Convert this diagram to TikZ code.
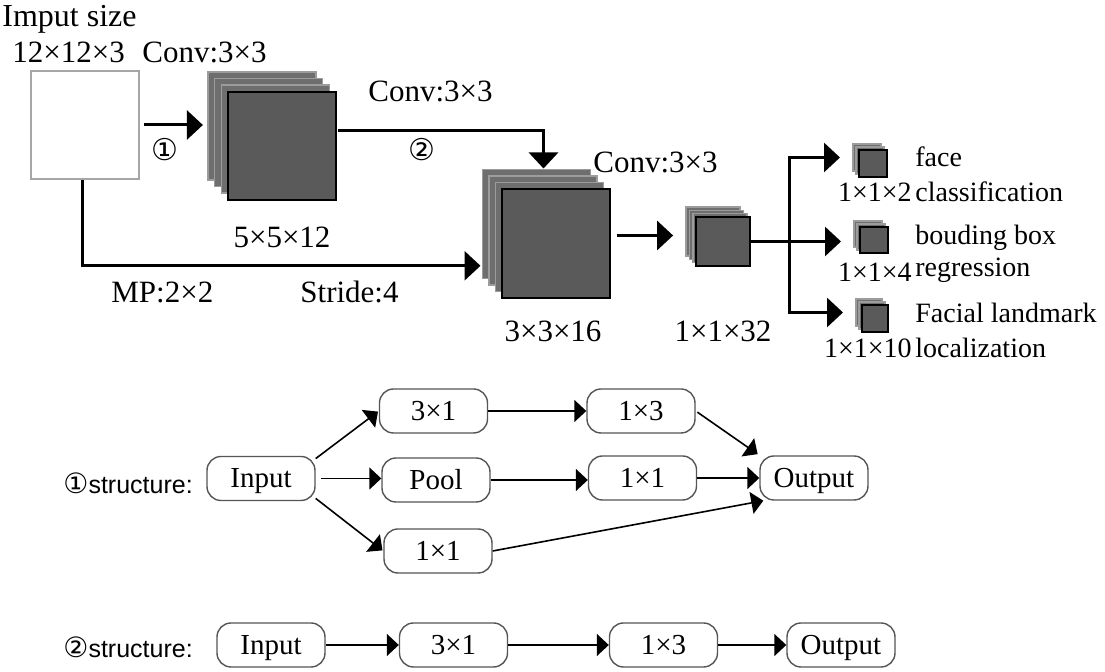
\documentclass[tikz,border=0pt]{standalone}
\usepackage{fontspec}
\setmainfont{Liberation Serif}
\setsansfont{Liberation Sans}
\newfontfamily\circfont{DejaVu Sans}
\usetikzlibrary{arrows.meta}
\definecolor{mapfront}{HTML}{5A5A5A}
\definecolor{mapback}{HTML}{6E6E6E}
\definecolor{mapedge}{HTML}{9C9C9C}
\definecolor{boxedge}{HTML}{555555}
\tikzset{
bigline/.style={line width=1.5pt},
bigarrow/.style={line width=1.5pt,-{Triangle[length=8pt,width=14.5pt]}},
thinarrow/.style={line width=0.8pt,-{Triangle[length=6pt,width=11pt]}},
inbox/.style={draw=gray!70,line width=0.8pt,fill=white,minimum width=54pt,minimum height=54pt,inner sep=0pt},
backmap/.style={draw=mapedge,line width=0.8pt,fill=mapback,inner sep=0pt,outer sep=0pt},
frontmap/.style={draw=black,line width=1pt,fill=mapfront,inner sep=0pt,outer sep=0pt},
lbl/.style={inner sep=0pt,font=\fontsize{15.5}{18}\selectfont},
sidelbl/.style={inner sep=0pt,font=\fontsize{14}{16}\selectfont},
circ/.style={inner sep=0pt,font=\fontsize{15}{17}\selectfont\circfont},
blk/.style={draw=boxedge,line width=0.7pt,rounded corners=7pt,minimum width=54pt,minimum height=22pt,inner sep=0pt,text height=9.5pt,text depth=0pt,font=\fontsize{14.5}{16}\selectfont},
structlbl/.style={inner sep=0pt,font=\fontsize{12.5}{15}\selectfont\sffamily}
}
\newcommand{\fmap}[7]{%
\foreach \k in {#7,...,1}{
\pgfmathsetmacro{\bx}{#2+#4/2-\k*#6}
\pgfmathsetmacro{\by}{#3+#5/2-\k*#6}
\node[backmap,minimum width=#4*0.5pt,minimum height=#5*0.5pt] (#1-\k) at (\bx,\by) {};
}
\node[frontmap,minimum width=#4*0.5pt,minimum height=#5*0.5pt] (#1) at (#2+#4/2,#3+#5/2) {};
}
\newcommand{\stepno}[1]{{\fontsize{14}{16}\selectfont\circfont #1}}

\begin{document}
\begin{tikzpicture}[x=0.5pt,y=-0.5pt]
\useasboundingbox (0,0) rectangle (1105,672);



\node[inbox] (in) at (85,125) {};

\fmap{c1}{228}{92}{108}{108}{6.7}{3}
\fmap{c2}{502}{189}{108}{109}{6.5}{3}
\fmap{c3}{696}{217}{54}{49}{3.3}{3}

\fmap{o1}{859}{150}{28}{27}{3}{2}
\fmap{o2}{860}{227}{28}{26}{3}{2}
\fmap{o3}{862}{305}{26}{27}{3}{2}



\draw[bigarrow,shorten <=2pt,shorten >=2.5pt] (in.east) -- (in.east -| c1-3.west);
\draw[bigarrow,shorten >=0.5pt] ([xshift=1pt,yshift=7.5pt]c1.east) -| ([xshift=3.5pt]c2-3.north);
\draw[bigarrow,shorten >=1pt] ([xshift=-1.5pt]in.south) -- ++(0,86) coordinate (mpc) -- (mpc -| c2-3.west);
\draw[bigarrow,shorten <=3.5pt,shorten >=6.5pt] ([yshift=4pt]c2.east) -- ([yshift=4pt]c2.east -| c3-3.west);

\draw[bigline] (c3.east) -- ++(39,0) coordinate (jn);
\draw[bigarrow,shorten >=6.5pt] (jn) |- (o1-2.west);
\draw[bigarrow,shorten >=6.5pt] (jn) -- (jn -| o2-2.west);
\draw[bigarrow,shorten >=6.5pt] (jn) |- (o3-2.west);



\node[lbl,font=\fontsize{16}{18}\selectfont,anchor=base west] (size) at (2,27) {Imput size};
\node[lbl,anchor=base west] (dim0) at (12,63) {12×12×3};
\node[lbl,anchor=base west] (conv1) at (142,63) {Conv:3×3};
\node[circ] (p1) at (165,150) {①};
\node[lbl,anchor=base] (dim1) at (282,248) {5×5×12};

\node[lbl,anchor=base west] (conv2) at (368,102) {Conv:3×3};
\node[circ] (p2) at (422,150) {②};
\node[lbl,anchor=base west] (mplbl) at (111,303) {MP:2×2};
\node[lbl,anchor=base west] (stride) at (300,303) {Stride:4};

\node[lbl,anchor=base west] (conv3) at (593,173) {Conv:3×3};
\node[lbl,anchor=base] (dim2) at (553,342) {3×3×16};
\node[lbl,anchor=base] (dim3) at (723,342) {1×1×32};

\node[sidelbl,anchor=base west] (face) at (915,167) {face};
\node[sidelbl,anchor=base west] (cls) at (915,202) {classification};
\node[sidelbl,anchor=base east] (dim4) at (912,202) {1×1×2};
\node[sidelbl,anchor=base west] (bbox) at (915,245) {bouding box};
\node[sidelbl,anchor=base west] (reg) at (915,277) {regression};
\node[sidelbl,anchor=base east] (dim5) at (912,282) {1×1×4};
\node[sidelbl,anchor=base west] (land) at (915,323) {Facial landmark};
\node[sidelbl,anchor=base west] (loc) at (915,358) {localization};
\node[sidelbl,anchor=base east] (dim6) at (912,358) {1×1×10};



\node[structlbl,anchor=west] (st1) at (63,483) {\stepno{①}structure:};

\node[blk] (a0) at (261,478.5) {Input};
\node[blk] (a1) at (433.5,411) {3×1};
\node[blk] (a2) at (436,480) {Pool};
\node[blk] (a3) at (438,551) {1×1};
\node[blk] (a4) at (641,411) {1×3};
\node[blk] (a5) at (642.5,478) {1×1};
\node[blk] (a6) at (814,478) {Output};

\draw[thinarrow,shorten >=0.5pt] (a0.20) -- (a1.west);
\draw[thinarrow,shorten <=2.5pt] (a0.east) -- (a0.east -| a2.west);
\draw[thinarrow,shorten >=0.5pt] (a0.-20) -- (a3.west);
\draw[thinarrow] (a1.east) -- (a1.east -| a4.west);
\draw[thinarrow] (a2.east) -- (a2.east -| a5.west);
\draw[thinarrow,shorten <=1pt,shorten >=1pt] (a4.east) -- (a6.north west);
\draw[thinarrow] (a5.east) -- (a6.west);
\draw[thinarrow] (a3.east) -- ([xshift=2pt]a6.south west);



\node[structlbl,anchor=west] (st2) at (63,647) {\stepno{②}structure:};

\node[blk] (b0) at (271,645) {Input};
\node[blk] (b1) at (453.5,645) {3×1};
\node[blk] (b2) at (663.5,645) {1×3};
\node[blk] (b3) at (841,645) {Output};

\draw[thinarrow] (b0) -- (b1);
\draw[thinarrow] (b1) -- (b2);
\draw[thinarrow] (b2) -- (b3);

\end{tikzpicture}
\end{document}
